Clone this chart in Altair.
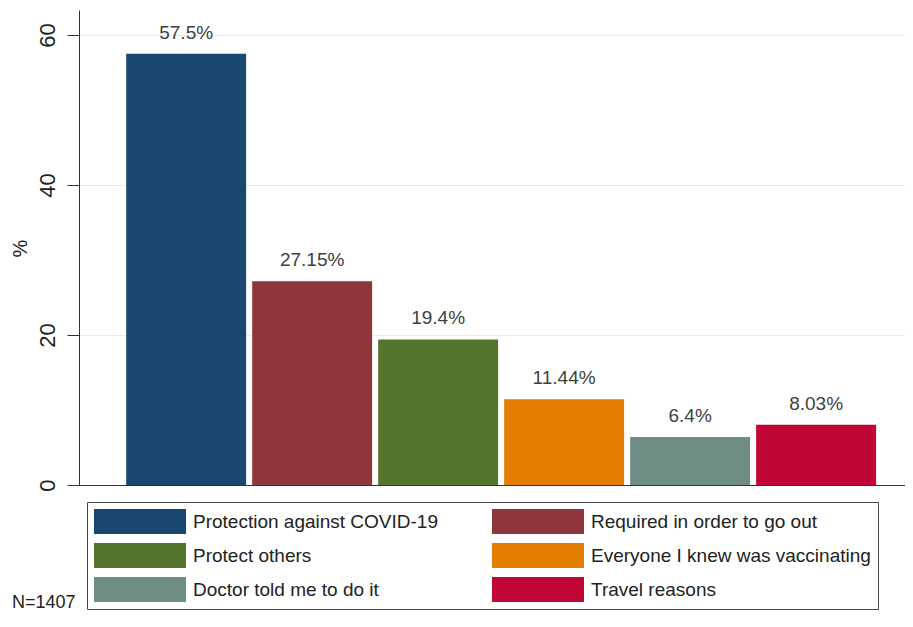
import altair as alt
import pandas as pd

categories = [
    "Protection against COVID-19",
    "Required in order to go out",
    "Protect others",
    "Everyone I knew was vaccinating",
    "Doctor told me to do it",
    "Travel reasons",
]
values = [57.5, 27.15, 19.4, 11.44, 6.4, 8.03]
bar_labels = ["57.5%", "27.15%", "19.4%", "11.44%", "6.4%", "8.03%"]
colors = ["#1a476f", "#90353b", "#55752f", "#e37e00", "#6e8e84", "#c10534"]
y_ticks = [0, 20, 40, 60]
note = "N=1407"

df = pd.DataFrame({"reason": categories, "pct": values, "label": bar_labels})
note_df = pd.DataFrame({"note": [note]})

FONT = "Liberation Sans"

x = alt.X(
    "reason:N",
    sort=categories,
    scale=alt.Scale(paddingInner=0.048, paddingOuter=0.302, align=0.62),
    axis=alt.Axis(labels=False, ticks=False, title=None, domainColor="#333333", grid=False),
)
y = alt.Y(
    "pct:Q",
    scale=alt.Scale(domain=[0, 63.33], nice=False),
    axis=alt.Axis(
        values=y_ticks,
        title="%",
        labelAngle=270,
        labelAlign="center",
        labelBaseline="bottom",
        labelFontSize=22,
        labelPadding=8,
        labelColor="#222222",
        tickSize=12,
        tickColor="#333333",
        domainColor="#333333",
        gridColor="#e3ecee",
        titleAngle=270,
        titleX=-59,
        titleY=238,
        titleAlign="center",
        titleBaseline="middle",
        titleFontSize=20,
        titleFontWeight="normal",
        titleColor="#222222",
    ),
)

color = alt.Color(
    "reason:N",
    sort=categories,
    scale=alt.Scale(domain=categories, range=colors),
    legend=alt.Legend(
        title=None,
        orient="none",
        direction="horizontal",
        legendX=8,
        legendY=492,
        columns=2,
        columnPadding=53,
        rowPadding=9,
        symbolType="M-1,-0.2717H1V0.2717H-1Z",
        symbolSize=8464,
        clipHeight=25,
        symbolStrokeWidth=0,
        symbolOpacity=1,
        labelFontSize=19,
        labelOffset=7,
        labelLimit=400,
        labelColor="#222222",
        padding=7,
        strokeColor="#444444",
    ),
)

base = alt.Chart(df)
bars = base.mark_bar().encode(x=x, y=y, color=color)
labels = base.mark_text(baseline="bottom", dy=-11, fontSize=19, color="#404040").encode(
    x=alt.X("reason:N", sort=categories), y="pct:Q", text="label:N"
)
note_layer = alt.Chart(note_df).mark_text(
    align="left", baseline="alphabetic", fontSize=18, color="#222222"
).encode(x=alt.value(-67), y=alt.value(598), text="note:N")

chart = (
    alt.layer(bars, labels, note_layer)
    .properties(
        width=826,
        height=475,
        padding={"left": 71, "top": 2, "right": 0, "bottom": 130},
        autosize=alt.AutoSizeParams(type="none"),
    )
    .configure(font=FONT)
    .configure_view(strokeWidth=0)
)

chart.save("out.html", embed_options={"renderer": "svg", "actions": False})
